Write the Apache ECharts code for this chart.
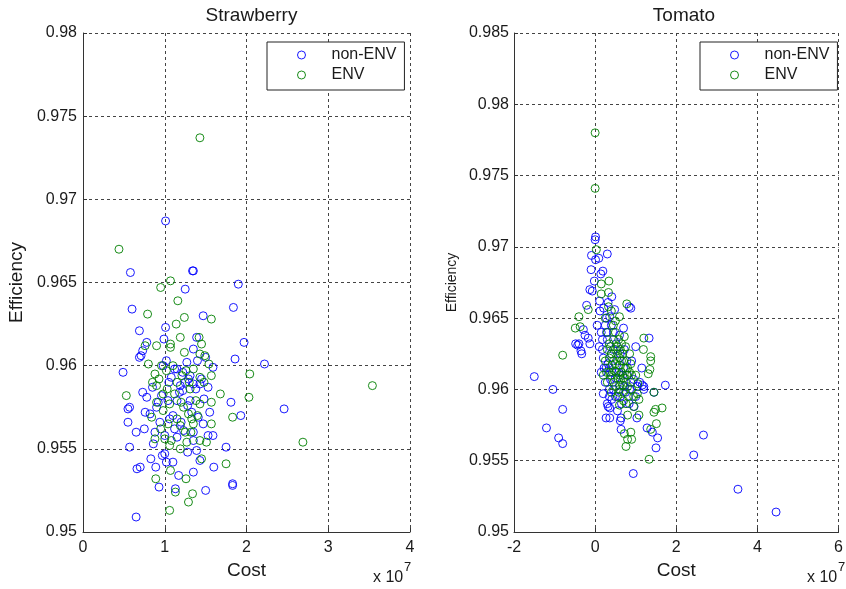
<!DOCTYPE html>
<html>
<head>
<meta charset="utf-8">
<script src="https://cdn.jsdelivr.net/npm/echarts@6/dist/echarts.min.js"></script>
<style>
html,body{margin:0;padding:0;background:#fff;}
#c{width:846px;height:589px;}
</style>
</head>
<body>
<div id="c"></div>
<script>
// Cost values are in units of 1e7
var strawNonEnv = [
[1.01,0.9687],[0.58,0.9656],[1.34,0.9657],[1.35,0.9657],[1.25,0.9646],[1.90,0.9649],[0.60,0.9634],[1.84,0.9635],
[1.47,0.9630],[1.01,0.9623],[0.69,0.9621],[0.99,0.9616],[0.78,0.9614],[1.39,0.9617],[1.35,0.9610],[1.97,0.9614],
[0.73,0.9609],[0.71,0.9606],[0.69,0.9605],[1.50,0.9605],[1.86,0.9604],[2.22,0.9601],[1.02,0.9603],[1.27,0.9602],
[1.40,0.9603],[1.59,0.9599],[0.49,0.9596],[1.12,0.9598],[1.15,0.9598],[1.31,0.9594],[1.29,0.9592],[0.73,0.9584],
[0.78,0.9581],[0.96,0.9582],[1.19,0.9588],[1.35,0.9589],[1.43,0.9589],[1.53,0.9587],[1.81,0.9578],[0.57,0.9575],
[0.55,0.9574],[0.76,0.9572],[0.90,0.9575],[1.15,0.9579],[1.31,0.9579],[1.41,0.9569],[1.93,0.9570],[0.55,0.9566],
[0.65,0.9560],[0.75,0.9562],[0.94,0.9566],[1.06,0.9568],[1.23,0.9561],[1.35,0.9560],[1.47,0.9565],[1.00,0.9558],
[1.15,0.9557],[1.35,0.9555],[1.53,0.9558],[1.59,0.9558],[0.57,0.9551],[1.00,0.9547],[1.39,0.9549],[1.75,0.9551],
[0.83,0.9544],[0.97,0.9546],[1.02,0.9542],[1.10,0.9542],[1.43,0.9543],[0.66,0.9538],[0.70,0.9539],[0.89,0.9539],
[1.60,0.9539],[1.17,0.9534],[1.35,0.9536],[0.93,0.9527],[1.13,0.9526],[1.50,0.9525],[1.83,0.9529],[1.83,0.9528],
[0.65,0.9509],[2.46,0.9574],[1.05,0.9590],[0.85,0.9587],[1.22,0.9585],[1.10,0.9570],[1.28,0.9576],[0.88,0.9560],
[1.45,0.9592],[1.20,0.9566],[1.08,0.9593],[1.18,0.9584],[0.92,0.9578],[1.33,0.9572],[1.25,0.9590],[0.82,0.9571],
[1.48,0.9580],[1.12,0.9562],[1.38,0.9586],[0.98,0.9600],[1.22,0.9596],[1.55,0.9572],[0.86,0.9553],[1.28,0.9548],
[1.04,0.9579]
];
var strawEnv = [
[1.43,0.9737],[0.44,0.9670],[1.07,0.9651],[0.95,0.9647],[1.16,0.9639],[0.79,0.9631],[1.24,0.9629],[1.57,0.9628],
[1.14,0.9625],[1.19,0.9617],[1.42,0.9617],[0.76,0.9612],[0.90,0.9612],[1.07,0.9613],[1.07,0.9611],[1.45,0.9613],
[1.24,0.9608],[1.43,0.9607],[1.49,0.9606],[0.80,0.9601],[0.96,0.9600],[1.54,0.9601],[2.04,0.9595],[1.02,0.9597],
[0.88,0.9595],[1.35,0.9598],[1.57,0.9594],[1.21,0.9594],[1.43,0.9593],[0.53,0.9582],[0.90,0.9588],[1.03,0.9586],
[1.31,0.9586],[1.68,0.9583],[2.03,0.9581],[0.84,0.9569],[1.06,0.9577],[1.23,0.9575],[1.43,0.9577],[1.29,0.9571],
[1.33,0.9568],[1.57,0.9578],[1.83,0.9569],[1.04,0.9565],[1.19,0.9564],[1.35,0.9565],[1.57,0.9565],[0.88,0.9556],
[1.08,0.9555],[1.27,0.9554],[1.43,0.9555],[1.51,0.9554],[1.06,0.9552],[1.19,0.9550],[1.45,0.9544],[1.07,0.9537],
[1.75,0.9541],[0.89,0.9532],[1.26,0.9532],[1.13,0.9524],[1.34,0.9523],[1.29,0.9518],[1.06,0.9513],[2.69,0.9554],
[3.54,0.9588],[1.12,0.9583],[0.98,0.9573],[1.25,0.9560],[1.15,0.9590],[0.95,0.9562],[1.38,0.9579],[0.93,0.9592],
[1.10,0.9600],[1.30,0.9590],[0.98,0.9583],[1.20,0.9578],[1.40,0.9570],[0.90,0.9578],[1.15,0.9568],[1.32,0.9560],
[1.00,0.9556],[1.26,0.9597],[1.48,0.9590],[0.85,0.9590]
];
var tomatoNonEnv = [
[0.01,0.9707],[0.00,0.9705],[0.30,0.9695],[-0.09,0.9694],[0.01,0.9691],[0.09,0.9692],[-0.10,0.9684],[0.19,0.9683],
[0.14,0.9681],[-0.02,0.9676],[-0.13,0.9670],[-0.07,0.9669],[0.41,0.9665],[0.11,0.9662],[0.32,0.9661],[0.84,0.9658],
[0.88,0.9657],[-0.21,0.9659],[0.21,0.9657],[0.48,0.9656],[0.36,0.9651],[-0.29,0.9642],[-0.25,0.9638],[-0.17,0.9636],
[-0.40,0.9632],[-0.43,0.9631],[-0.13,0.9632],[-0.33,0.9625],[-0.35,0.9627],[-0.48,0.9632],[0.70,0.9643],[1.33,0.9636],
[-1.04,0.9600],[-0.80,0.9586],[-1.20,0.9573],[-0.90,0.9566],[-0.80,0.9562],[-1.50,0.9609],[1.73,0.9603],[1.20,0.9602],
[1.28,0.9573],[1.41,0.9570],[1.54,0.9566],[1.50,0.9559],[2.43,0.9554],[2.67,0.9568],[3.52,0.9530],[4.46,0.9514],
[0.94,0.9541],[0.64,0.9572],[1.03,0.9580],[0.62,0.9578],[0.36,0.9580],[0.36,0.9587],[0.41,0.9593],[0.84,0.9590],
[0.96,0.9588],[1.04,0.9602],[0.25,0.9645],[0.15,0.9640],[0.30,0.9635],[0.10,0.9630],[0.45,0.9628],[0.20,0.9622],
[0.55,0.9620],[0.35,0.9615],[0.70,0.9615],[0.15,0.9612],[0.50,0.9608],[0.80,0.9610],[0.25,0.9605],[0.60,0.9603],
[0.95,0.9607],[0.35,0.9600],[0.75,0.9598],[0.50,0.9595],[1.10,0.9605],[0.20,0.9597],[0.65,0.9590],[0.40,0.9625],
[0.60,0.9638],[0.90,0.9620],[1.00,0.9630],[0.12,0.9655],[0.28,0.9650],[0.05,0.9645],[0.45,0.9640],[0.18,0.9628],
[0.72,0.9628],[1.15,0.9615],[0.30,0.9590],[0.55,0.9585],[0.85,0.9600],[0.32,0.9588],[0.27,0.9580],[0.64,0.9580],
[1.20,0.9600],[1.16,0.9603],[1.45,0.9598],[0.27,0.9615],[0.32,0.9618],[0.42,0.9612],[0.62,0.9625],[0.52,0.9632],
[0.22,0.9615],[0.38,0.9607],[0.58,0.9612],[0.78,0.9620],[0.88,0.9605],[0.45,0.9600],[0.68,0.9610],[0.28,0.9640],
[0.40,0.9645],[0.18,0.9635],[0.35,0.9595],[1.00,0.9595],[0.72,0.9602],[0.62,0.9595]
];
var tomatoEnv = [
[0.00,0.9780],[0.00,0.9741],[0.03,0.9698],[0.34,0.9676],[0.15,0.9674],[0.33,0.9668],[0.15,0.9667],[0.78,0.9660],
[-0.17,0.9656],[0.60,0.9651],[-0.40,0.9651],[-0.37,0.9644],[-0.49,0.9643],[-0.80,0.9624],[1.20,0.9636],[1.19,0.9628],
[1.37,0.9623],[1.45,0.9598],[1.37,0.9620],[1.35,0.9614],[1.31,0.9611],[1.65,0.9587],[1.49,0.9586],[1.45,0.9584],
[1.51,0.9576],[1.37,0.9572],[1.33,0.9551],[0.76,0.9560],[0.80,0.9565],[0.90,0.9565],[0.72,0.9569],[0.88,0.9570],
[1.08,0.9582],[0.80,0.9582],[0.60,0.9589],[0.76,0.9590],[1.04,0.9597],[1.08,0.9593],[0.30,0.9640],[0.45,0.9635],
[0.55,0.9630],[0.40,0.9625],[0.60,0.9622],[0.50,0.9618],[0.70,0.9620],[0.35,0.9612],[0.65,0.9612],[0.55,0.9608],
[0.80,0.9615],[0.45,0.9605],[0.75,0.9605],[0.60,0.9600],[0.90,0.9610],[0.25,0.9620],[0.50,0.9628],[0.65,0.9632],
[0.35,0.9632],[0.70,0.9598],[1.00,0.9610],[0.85,0.9625],[0.20,0.9610],[0.40,0.9598],[0.95,0.9595],[0.55,0.9595],
[0.30,0.9605],[0.72,0.9637],[0.50,0.9640],[0.25,0.9650],[0.40,0.9655],[0.60,0.9617],[0.48,0.9613],[0.63,0.9607],
[0.78,0.9610],[0.68,0.9625],[0.35,0.9622],[0.45,0.9620],[0.55,0.9625],[0.65,0.9620],[0.75,0.9615],[0.85,0.9612],
[0.40,0.9610],[0.50,0.9602],[0.60,0.9610],[0.70,0.9608],[0.80,0.9602],[0.90,0.9600],[0.38,0.9630],[0.58,0.9635],
[0.45,0.9645],[0.30,0.9628],[0.62,0.9628],[0.75,0.9630],[0.52,0.9612],[0.68,0.9603],[0.42,0.9617],[0.88,0.9618],
[1.05,0.9604],[0.58,0.9598],[0.82,0.9595],[0.28,0.9612],[0.50,0.9648],[0.33,0.9658],[0.95,0.9588],[0.70,0.9592]
];
var strawXTicks = {min:0, max:4, interval:1};
var tomatoXTicks = {min:-2, max:6, interval:2};
var strawYTicks = {min:0.95, max:0.98, interval:0.005};
var tomatoYTicks = {min:0.95, max:0.985, interval:0.005};
var titles = ['Strawberry','Tomato'];
var seriesNames = ['non-ENV','ENV'];
var colors = ['#0000ff','#008000'];

var txt = '#1a1a1a';
var font = 'Liberation Sans, Arial, sans-serif';
function xAxisCfg(t, gi){
  return {
    type:'value', gridIndex:gi, min:t.min, max:t.max, interval:t.interval,
    name:'Cost', nameLocation:'middle', nameGap:27,
    nameTextStyle:{fontSize:19, color:txt, fontFamily:font},
    axisLine:{show:true, onZero:false, lineStyle:{color:'#333', width:1}},
    axisTick:{show:true, inside:true, length:4, lineStyle:{color:'#333'}},
    axisLabel:{fontSize:16, color:txt, fontFamily:font, margin:8},
    splitLine:{show:true, lineStyle:{color:'#444', type:[3,3], width:1}}
  };
}
function yAxisCfg(t, gi, nameSize, gap, margin){
  return {
    type:'value', gridIndex:gi, min:t.min, max:t.max, interval:t.interval,
    name:'Efficiency', nameLocation:'middle', nameGap:gap,
    nameTextStyle:{fontSize:nameSize, color:txt, fontFamily:font},
    axisLine:{show:true, onZero:false, lineStyle:{color:'#333', width:1}},
    axisTick:{show:true, inside:true, length:4, lineStyle:{color:'#333'}},
    axisLabel:{fontSize:16, color:txt, fontFamily:font, margin:margin,
      formatter:function(v){return String(+v.toFixed(3));}},
    splitLine:{show:true, lineStyle:{color:'#444', type:[3,3], width:1}}
  };
}
function sc(name, data, color, gi){
  return {
    type:'scatter', name:name, data:data, xAxisIndex:gi, yAxisIndex:gi,
    symbol:'circle', symbolSize:8,
    itemStyle:{color:'transparent', borderColor:color, borderWidth:1, opacity:0.9},
    emphasis:{disabled:true}
  };
}
function legendCfg(pos){
  var l = {
    orient:'vertical', top:42,
    backgroundColor:'#fff', borderColor:'#222', borderWidth:1,
    padding:[4,8,6,30], itemGap:2, itemWidth:8, itemHeight:8,
    textStyle:{fontSize:16, color:txt, fontFamily:font, lineHeight:18, padding:[0,0,0,21]},
    data: seriesNames.map(function(n,i){
      return {name:n, icon:'circle', itemStyle:{color:'transparent', borderColor:colors[i], borderWidth:1}};
    })
  };
  for (var k in pos) l[k]=pos[k];
  return l;
}
var chart = echarts.init(document.getElementById('c'), null, {renderer:'canvas'});
chart.setOption({
  animation:false,
  backgroundColor:'#fff',
  title:[
    {text:titles[0], left:246.5, textAlign:'center', top:1, textStyle:{fontSize:19, fontWeight:'normal', color:txt, fontFamily:font}},
    {text:titles[1], left:679, textAlign:'center', top:1, textStyle:{fontSize:19, fontWeight:'normal', color:txt, fontFamily:font}}
  ],
  legend:[legendCfg({left:267}), legendCfg({left:700})],
  grid:[
    {left:83, top:33, width:327, height:499},
    {left:514, top:33, width:330, height:499}
  ],
  xAxis:[xAxisCfg(strawXTicks,0), xAxisCfg(tomatoXTicks,1)],
  yAxis:[yAxisCfg(strawYTicks,0,19,57,6), yAxisCfg(tomatoYTicks,1,14,55,5)],
  series:[
    sc(seriesNames[0], strawNonEnv, colors[0], 0),
    sc(seriesNames[1], strawEnv, colors[1], 0),
    sc(seriesNames[0], tomatoNonEnv, colors[0], 1),
    sc(seriesNames[1], tomatoEnv, colors[1], 1)
  ],
  graphic:[
    {type:'text', left:373, top:570, style:{text:'x 10', fontSize:16, fill:txt, fontFamily:font}},
    {type:'text', left:404, top:561, style:{text:'7', fontSize:13, fill:txt, fontFamily:font}},
    {type:'text', left:807, top:570, style:{text:'x 10', fontSize:16, fill:txt, fontFamily:font}},
    {type:'text', left:838, top:561, style:{text:'7', fontSize:13, fill:txt, fontFamily:font}}
  ]
});
</script>
</body>
</html>
